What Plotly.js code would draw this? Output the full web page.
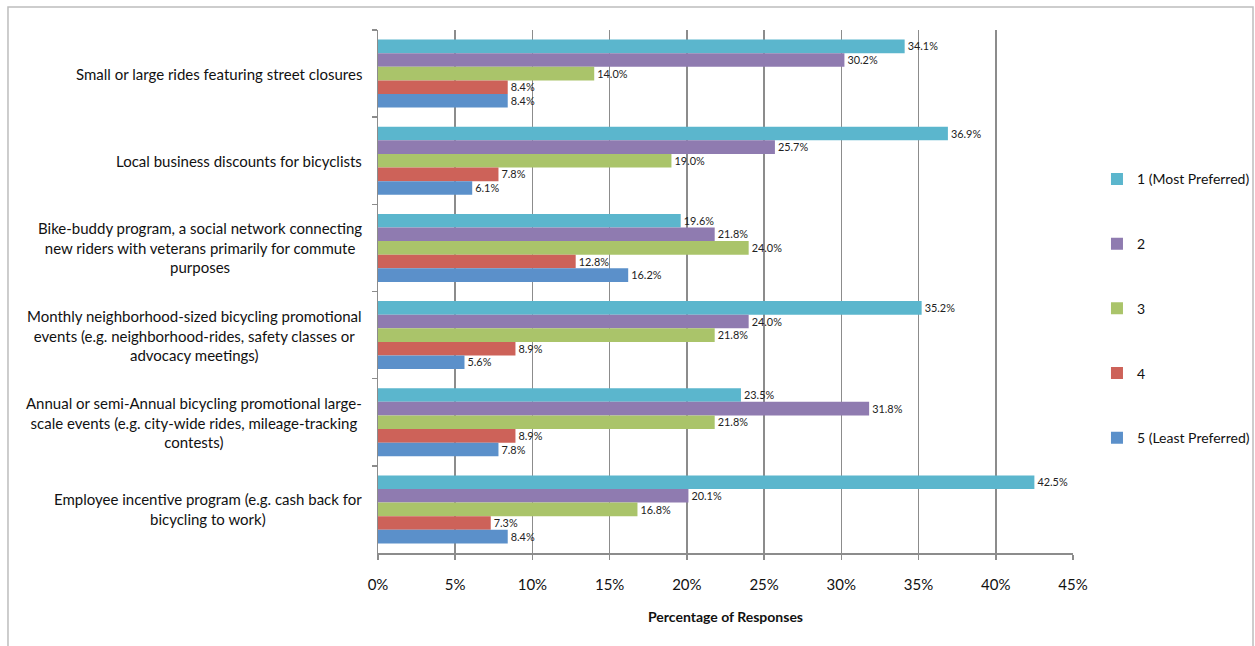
<!DOCTYPE html>
<html>
<head>
<meta charset="utf-8">
<script src="https://cdn.plot.ly/plotly-3.0.1.min.js"></script>
<style>
html,body{margin:0;padding:0;background:#fff;}
#chart{width:1255px;height:646px;}
</style>
</head>
<body>
<div id="chart"></div>
<script>
const categories = [
  "Small or large rides featuring street closures",
  "Local business discounts for bicyclists",
  "Bike-buddy program, a social network connecting<br>new riders with veterans primarily for commute<br>purposes",
  "Monthly neighborhood-sized bicycling promotional<br>events (e.g. neighborhood-rides, safety classes or<br>advocacy meetings)",
  "Annual or semi-Annual bicycling promotional large-<br>scale events (e.g. city-wide rides, mileage-tracking<br>contests)",
  "Employee incentive program (e.g. cash back for<br>bicycling to work)"
];
const seriesNames = ["1 (Most Preferred)", "2", "3", "4", "5 (Least Preferred)"];
const rank1 = [34.1, 36.9, 19.6, 35.2, 23.5, 42.5];
const rank2 = [30.2, 25.7, 21.8, 24.0, 31.8, 20.1];
const rank3 = [14.0, 19.0, 24.0, 21.8, 21.8, 16.8];
const rank4 = [8.4, 7.8, 12.8, 8.9, 8.9, 7.3];
const rank5 = [8.4, 6.1, 16.2, 5.6, 7.8, 8.4];
const xTicks = [0, 5, 10, 15, 20, 25, 30, 35, 40, 45];

const colors = ["#5BB6CD", "#8F7BB0", "#AAC46A", "#CD6259", "#5B90CA"];
const allSeries = [rank1, rank2, rank3, rank4, rank5];

const traces = allSeries.map((vals, i) => ({
  type: "bar",
  orientation: "h",
  name: seriesNames[i],
  legendgroup: "g" + i,
  y: categories,
  x: vals,
  marker: {color: colors[i], line: {width: 0}},
  text: vals.map(v => v.toFixed(1) + "%"),
  textposition: "outside",
  cliponaxis: false,
  textfont: {family: "Lato, sans-serif", size: 12, color: "#222"},
  hoverinfo: "x+name"
}));

const annotations = categories.map(c => ({
  xref: "paper", yref: "y",
  x: 0, y: c,
  xshift: -14,
  xanchor: "right", yanchor: "middle",
  align: "center",
  text: c,
  showarrow: false,
  font: {family: "Lato, sans-serif", size: 15, color: "#111"}
}));

const layout = {
  width: 1255, height: 646,
  margin: {l: 378, r: 182, t: 30, b: 93, autoexpand: false},
  paper_bgcolor: "#fff",
  plot_bgcolor: "#fff",
  barmode: "group",
  bargap: 0.22,
  bargroupgap: 0,
  font: {family: "Lato, sans-serif", size: 14, color: "#111"},
  xaxis: {
    range: [0, 45],
    tickvals: xTicks,
    ticktext: xTicks.map(v => v + "%"),
    showgrid: true,
    gridcolor: "#8C8C8C",
    gridwidth: 1.5,
    zeroline: false,
    showline: true,
    linecolor: "#8C8C8C",
    linewidth: 1.5,
    ticks: "outside",
    ticklen: 5,
    tickcolor: "#8C8C8C",
    tickwidth: 1.5,
    ticklabelstandoff: 12,
    tickfont: {size: 15, color: "#111"},
    title: {text: "<b>Percentage of Responses</b>", font: {size: 14, color: "#111"}, standoff: 20},
    automargin: false,
    fixedrange: true
  },
  yaxis: {
    autorange: "reversed",
    showticklabels: false,
    showline: true,
    linecolor: "#8C8C8C",
    linewidth: 1.5,
    ticks: "outside",
    tickson: "boundaries",
    ticklen: 5,
    tickcolor: "#8C8C8C",
    tickwidth: 1.5,
    showgrid: false,
    zeroline: false,
    automargin: false,
    fixedrange: true
  },
  legend: {
    x: 1.0345, xanchor: "left",
    y: 0.745, yanchor: "top",
    font: {size: 14, color: "#111"},
    tracegroupgap: 43.5,
    itemwidth: 30,
    bgcolor: "rgba(0,0,0,0)"
  },
  annotations: annotations,
  shapes: [{
    type: "rect", xref: "paper", yref: "paper",
    x0: -0.5324, x1: 1.259, y0: -0.2, y1: 1.044,
    line: {color: "#BDBDBD", width: 1.5},
    fillcolor: "rgba(0,0,0,0)",
    layer: "below"
  }],
  showlegend: true
};

Plotly.newPlot("chart", traces, layout, {displayModeBar: false, staticPlot: true});
</script>
</body>
</html>
